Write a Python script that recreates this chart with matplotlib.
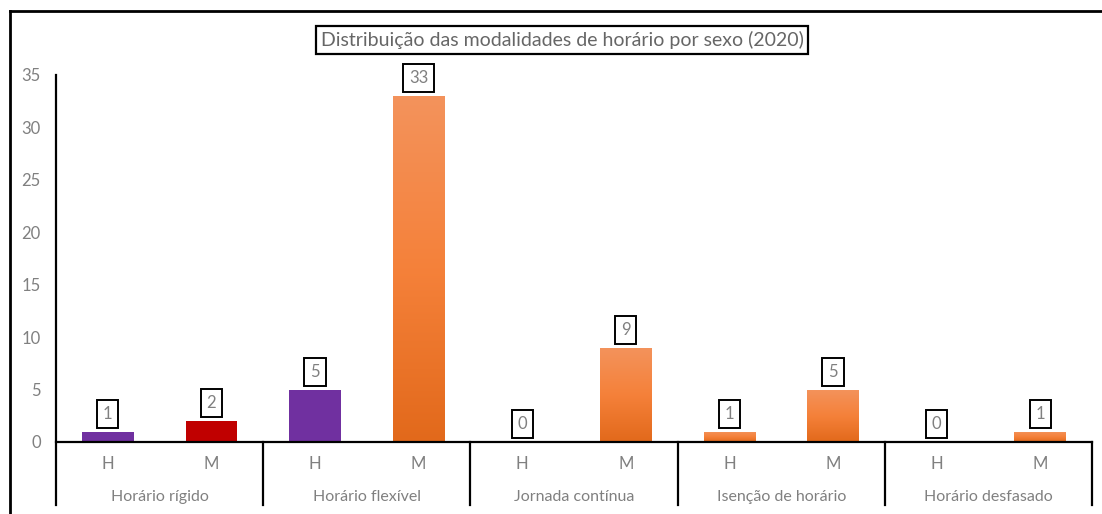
import numpy as np
import matplotlib.pyplot as plt
from matplotlib.lines import Line2D
from matplotlib.colors import LinearSegmentedColormap

# ── data ──────────────────────────────────────────────────────────────
groups = ["Horário rígido", "Horário flexível", "Jornada contínua",
          "Isenção de horário", "Horário desfasado"]
sexes = ["H", "M"]
values = [1, 2, 5, 33, 0, 9, 1, 5, 0, 1]
bar_colors = ["#7030a0", "#c00000", "#7030a0", "orange", "orange",
              "orange", "orange", "orange", "orange", "orange"]
title = "Distribuição das modalidades de horário por sexo (2020)"

# ── style ─────────────────────────────────────────────────────────────
plt.rcParams["font.family"] = ["Lato", "DejaVu Sans"]
GREY = "#808080"
orange_cmap = LinearSegmentedColormap.from_list("og", ["#e2691b", "#f5813a", "#f3935c"])

fig = plt.figure(figsize=(11.02, 5.14), dpi=100)
ax = fig.add_axes([56 / 1102, 72 / 514, 1036 / 1102, 367 / 514])

x = np.arange(len(values))
bars = ax.bar(x, values, width=0.5, color=bar_colors[0], zorder=2)

grad = np.linspace(0, 1, 256).reshape(-1, 1)
for b, c in zip(bars, bar_colors):
    if c == "orange":
        b.set_facecolor("none")
        b.set_edgecolor("none")
        if b.get_height() > 0:
            x0, w, h = b.get_x(), b.get_width(), b.get_height()
            im = ax.imshow(grad, cmap=orange_cmap, aspect="auto", origin="lower",
                           extent=[x0, x0 + w, 0, h], zorder=2)
            im.set_clip_path(b)
    else:
        b.set_facecolor(c)

ax.set_xlim(-0.5, len(values) - 0.5)
ax.set_ylim(0, 35)

# data labels in boxes
for xi, v in zip(x, values):
    ax.annotate(str(v), (xi, v), xytext=(0, 7), textcoords="offset points",
                ha="center", va="bottom", fontsize=12, color=GREY,
                bbox=dict(boxstyle="square,pad=0.35", fc="white", ec="black", lw=1.4))

# y axis
for s in ax.spines.values():
    s.set_visible(False)
ax.set_yticks(range(0, 36, 5))
ax.tick_params(axis="y", length=0, pad=11, labelsize=12, labelcolor=GREY)
ax.set_xticks([])

# axis lines and category separators
low = -0.172
trans = ax.get_xaxis_transform()
ax.add_line(Line2D([-0.5, -0.5], [low, 1], transform=trans, color="black", lw=1.6, clip_on=False))
ax.add_line(Line2D([-0.5, len(values) - 0.5], [0, 0], transform=trans, color="black", lw=1.6, clip_on=False))
for sep in np.arange(1.5, len(values), 2):
    ax.add_line(Line2D([sep, sep], [low, 0], transform=trans, color="black", lw=1.6, clip_on=False))

# category labels
for xi in x:
    ax.text(xi, -0.06, sexes[xi % 2], transform=trans, ha="center", va="center",
            fontsize=12, color=GREY)
for gi, g in enumerate(groups):
    ax.text(2 * gi + 0.5, -0.15, g, transform=trans, ha="center", va="center",
            fontsize=11.5, color=GREY)

# title in box
fig.text(562 / 1102, 1 - 40 / 514, title, ha="center", va="center", fontsize=14,
         color="#666666",
         bbox=dict(boxstyle="square,pad=0.25", fc="white", ec="black", lw=1.6))

# chart frame (left and top edges visible)
fig.add_artist(Line2D([10 / 1102, 10 / 1102], [0, 1 - 11 / 514], color="black", lw=2))
fig.add_artist(Line2D([10 / 1102, 1], [1 - 11 / 514, 1 - 11 / 514], color="black", lw=2))

fig.savefig("out.png", dpi=100)
